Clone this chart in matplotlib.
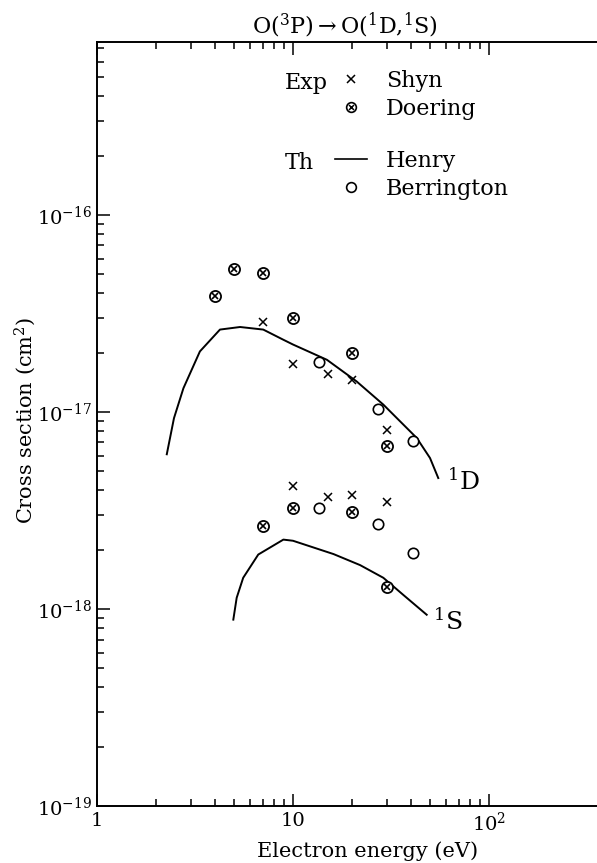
import numpy as np
import matplotlib
matplotlib.use("Agg")
import matplotlib.pyplot as plt
from matplotlib.ticker import FixedLocator, NullFormatter
from matplotlib.lines import Line2D

plt.rcParams['font.family'] = ['DejaVu Serif']
plt.rcParams['mathtext.fontset'] = 'dejavuserif'

# --- data (energy eV, cross section cm^2) ---
# 1D
shyn_d_x = [7, 10, 15, 20, 30]
shyn_d_y = [2.85e-17, 1.76e-17, 1.56e-17, 1.45e-17, 8.1e-18]
doer_d_x = [4, 5, 7, 10, 20, 30]
doer_d_y = [3.9e-17, 5.3e-17, 5.1e-17, 3.0e-17, 2.0e-17, 6.7e-18]
berr_d_x = [13.6, 27.2, 40.8]
berr_d_y = [1.8e-17, 1.04e-17, 7.1e-18]
henry_d_x = [2.27, 2.47, 2.76, 3.35, 4.24, 5.37, 7.05, 8.9, 10, 14.9, 21.1, 28.9, 42.8, 50, 55.1]
henry_d_y = [6.1e-18, 9.3e-18, 1.32e-17, 2.03e-17, 2.62e-17, 2.70e-17, 2.62e-17, 2.33e-17,
             2.2e-17, 1.84e-17, 1.43e-17, 1.09e-17, 7.38e-18, 5.84e-18, 4.62e-18]
# 1S
shyn_s_x = [10, 15, 20, 30]
shyn_s_y = [4.2e-18, 3.7e-18, 3.8e-18, 3.5e-18]
doer_s_x = [7, 10, 20, 30]
doer_s_y = [2.65e-18, 3.25e-18, 3.1e-18, 1.3e-18]
berr_s_x = [13.6, 27.2, 40.8]
berr_s_y = [3.25e-18, 2.7e-18, 1.92e-18]
henry_s_x = [4.96, 5.16, 5.57, 6.65, 8.93, 10, 16.1, 22, 28.9, 36.5, 48.1]
henry_s_y = [8.83e-19, 1.14e-18, 1.44e-18, 1.89e-18, 2.25e-18, 2.22e-18, 1.9e-18,
             1.67e-18, 1.44e-18, 1.18e-18, 9.35e-19]

xticks = [1, 10, 100]
xticklabels = ['1', '10', r'$10^2$']
yticks = [1e-19, 1e-18, 1e-17, 1e-16]
yticklabels = [r'$10^{-19}$', r'$10^{-18}$', r'$10^{-17}$', r'$10^{-16}$']

W, H = 597, 863
fig = plt.figure(figsize=(W / 100, H / 100), dpi=100)
ax = fig.add_axes([97 / W, 1 - 806 / H, 3 * 196 / W, (806 - 42) / H])
ax.set_xscale('log')
ax.set_yscale('log')
ax.set_xlim(1, 1000)
ax.set_ylim(1e-19, 10 ** -15.122)

k = 'black'
ax.plot(henry_d_x, henry_d_y, '-', color=k, lw=1.4)
ax.plot(henry_s_x, henry_s_y, '-', color=k, lw=1.4)
ax.plot(shyn_d_x + shyn_s_x, shyn_d_y + shyn_s_y, 'x', color=k, ms=6, mew=1.1, ls='none')
# Doering: circle with a cross inside
ax.plot(doer_d_x + doer_s_x, doer_d_y + doer_s_y, 'o', mfc='white', mec=k, ms=8, mew=1.3, ls='none')
ax.plot(doer_d_x + doer_s_x, doer_d_y + doer_s_y, 'x', color=k, ms=4.2, mew=1.2, ls='none')
ax.plot(berr_d_x + berr_s_x, berr_d_y + berr_s_y, 'o', mfc='white', mec=k, ms=7.5, mew=1.2, ls='none')

ax.text(61, 4.45e-18, r'$^{1}$D', fontsize=18, ha='left', va='center')
ax.text(52, 8.7e-19, r'$^{1}$S', fontsize=18, ha='left', va='center')

ax.set_xticks(xticks)
ax.set_xticklabels(xticklabels)
ax.xaxis.set_minor_locator(FixedLocator([2, 3, 4, 5, 6, 7, 8, 9, 20, 30, 40, 50, 60, 70, 80, 90]))
ax.xaxis.set_minor_formatter(NullFormatter())
ax.set_yticks(yticks)
ax.set_yticklabels(yticklabels)
ax.yaxis.set_minor_formatter(NullFormatter())
ax.tick_params(which='both', direction='in', top=True, right=False, labelsize=14, width=1.1)
ax.tick_params(which='major', length=9, pad=4)
ax.tick_params(which='minor', length=5)
ax.spines['right'].set_visible(False)
for s in ['left', 'bottom', 'top']:
    ax.spines[s].set_linewidth(1.4)

# legend
h_doer = (Line2D([], [], ls='none', marker='o', mfc='white', mec=k, ms=7, mew=1.2),
          Line2D([], [], ls='none', marker='x', color=k, ms=3.6, mew=1.1))
h1 = [Line2D([], [], ls='none', marker='x', color=k, ms=6, mew=1.1), h_doer]
h2 = [Line2D([], [], ls='-', color=k, lw=1.2),
      Line2D([], [], ls='none', marker='o', mfc='white', mec=k, ms=7, mew=1.2)]
leg_kw = dict(frameon=False, fontsize=16, handlelength=1.45, handletextpad=0.85,
              labelspacing=0.25, borderpad=0, borderaxespad=0, loc='upper left',
              bbox_transform=fig.transFigure)
leg1 = ax.legend(h1, ['Shyn', 'Doering'], bbox_to_anchor=(335 / W, 1 - 70 / H), **leg_kw)
ax.add_artist(leg1)
ax.legend(h2, ['Henry', 'Berrington'], bbox_to_anchor=(335 / W, 1 - 150 / H), **leg_kw)
fig.text(285 / W, 1 - 83 / H, 'Exp', fontsize=16, va='center', ha='left')
fig.text(285 / W, 1 - 163 / H, 'Th', fontsize=16, va='center', ha='left')

fig.text(345 / W, 1 - 25 / H, r'O($^3$P)$\rightarrow$O($^1$D,$^1$S)', fontsize=16,
         ha='center', va='center')
fig.text(368 / W, 1 - 851 / H, 'Electron energy (eV)', fontsize=15, ha='center', va='center')
fig.text(25 / W, 1 - 420 / H, 'Cross section (cm$^2$)', fontsize=15, ha='center', va='center',
         rotation=90)

fig.savefig('out.png', dpi=100)
